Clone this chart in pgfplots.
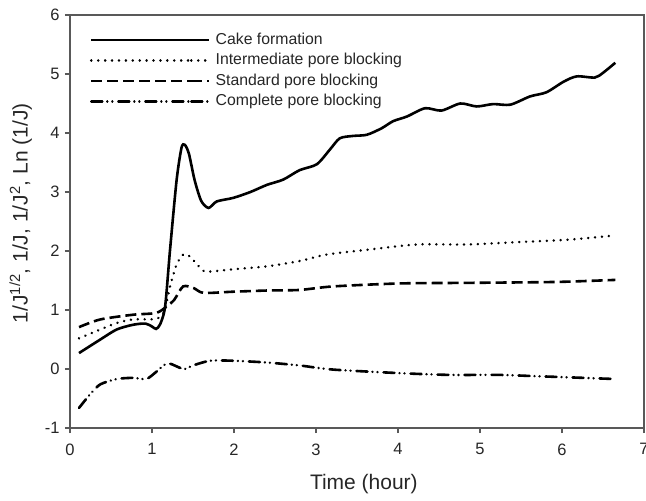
\documentclass[border=0pt]{standalone}
\usepackage{pgfplots}
\pgfplotsset{compat=1.18}
\usepackage{fontspec}
\setmainfont{Liberation Sans}
\newcommand\tl{\fontsize{16.5}{19}\selectfont}
\begin{document}
\begin{tikzpicture}
\begin{axis}[
  scale only axis,
  width=574pt, height=413pt,
  xmin=0, xmax=7, ymin=-1, ymax=6,
  xtick={0,1,...,7}, ytick={-1,0,...,6},
  xticklabels={\tl 0,\tl 1,\tl 2,\tl 3,\tl 4,\tl 5,\tl 6,\tl 7},
  yticklabels={\tl -1,\tl 0,\tl 1,\tl 2,\tl 3,\tl 4,\tl 5,\tl 6},
  xtick pos=left, ytick pos=left,
  tick align=outside,
  major tick length=5pt,
  axis line style={draw=black!65, line width=1.1pt},
  every tick/.style={draw=black!65, line width=1.1pt},
  tick label style={text=black!85},
  xticklabel style={yshift=-7pt},
  yticklabel style={xshift=-2pt},
  xlabel={Time (hour)},
  ylabel={1/J\textsuperscript{1/2}, 1/J, 1/J\textsuperscript{2}, Ln (1/J)},
  label style={font=\fontsize{21}{25}\selectfont, text=black!85},
  xlabel style={at={(axis description cs:0.512,-0.1356)}, anchor=center},
  ylabel style={at={(axis description cs:-0.086,0.52)}, anchor=center},
  legend cell align=left,
  legend image code/.code={\draw[#1] (0pt,0pt) -- (100pt,0pt); \path (100pt,0pt) -- (118pt,0pt);},
  legend style={draw=none, fill=none, inner sep=0pt, outer sep=0pt,
    at={(0.0348,0.964)}, anchor=north west,
    font=\fontsize{15.8}{18}\selectfont, text=black!85,
    nodes={inner ysep=3.25pt, inner xsep=5pt, text height=11pt, text depth=3pt},
    row sep=0pt},
]
\coordinate (bl) at (rel axis cs:0,0);
\addplot[black, line width=2.6pt, smooth, tension=0.45] coordinates {
(0.11,0.27)(0.37,0.50)(0.57,0.67)(0.77,0.75)(0.92,0.77)(1.0,0.72)(1.05,0.68)(1.1,0.76)
(1.16,1.06)(1.22,2.02)(1.30,3.2)(1.36,3.75)(1.40,3.80)(1.45,3.65)(1.52,3.2)(1.60,2.85)
(1.69,2.73)(1.79,2.84)(1.99,2.90)(2.2,3.0)(2.40,3.12)(2.60,3.21)(2.80,3.37)(3.01,3.47)
(3.17,3.72)(3.29,3.91)(3.45,3.95)(3.62,3.97)(3.80,4.08)(3.94,4.20)(4.11,4.28)(4.33,4.42)
(4.53,4.38)(4.76,4.50)(4.96,4.45)(5.16,4.49)(5.37,4.48)(5.61,4.62)(5.81,4.69)(6.02,4.87)
(6.18,4.96)(6.40,4.94)(6.50,5.02)(6.65,5.19)};
\addlegendentry{Cake formation}
\addplot[black, line width=2.7pt, line cap=round, dash pattern=on 0.01pt off 6.9pt, smooth, tension=0.45] coordinates {
(0.11,0.52)(0.37,0.67)(0.57,0.78)(0.77,0.84)(1.05,0.85)(1.15,0.98)(1.22,1.40)(1.30,1.77)
(1.38,1.94)(1.46,1.91)(1.59,1.71)(1.67,1.65)(1.99,1.69)(2.40,1.74)(2.80,1.83)(3.13,1.94)
(3.62,2.02)(4.23,2.11)(4.84,2.11)(5.45,2.15)(6.06,2.19)(6.62,2.26)};
\addlegendentry{Intermediate pore blocking}
\addplot[black, line width=2.6pt, dash pattern=on 11pt off 5pt, smooth, tension=0.45] coordinates {
(0.11,0.71)(0.37,0.84)(0.77,0.92)(1.05,0.95)(1.18,1.06)(1.27,1.17)(1.38,1.40)(1.51,1.37)
(1.63,1.29)(1.99,1.31)(2.40,1.33)(2.80,1.34)(3.21,1.40)(4.02,1.45)(4.84,1.46)(5.65,1.47)
(6.06,1.48)(6.65,1.51)};
\addlegendentry{Standard pore blocking}
\addplot[black, line width=2.6pt, line cap=round, dash pattern=on 11pt off 5pt on 0.01pt off 5pt on 0.01pt off 6pt, smooth, tension=0.45] coordinates {
(0.11,-0.66)(0.25,-0.42)(0.37,-0.26)(0.57,-0.17)(0.77,-0.15)(0.93,-0.17)(1.05,-0.05)
(1.15,0.07)(1.22,0.09)(1.34,0.02)(1.40,0.0)(1.50,0.06)(1.71,0.14)(1.99,0.14)(2.40,0.11)
(2.80,0.06)(3.21,-0.01)(4.02,-0.07)(4.63,-0.10)(5.24,-0.10)(5.65,-0.12)(6.06,-0.14)(6.65,-0.17)};
\addlegendentry{Complete pore blocking}
\end{axis}
\pgfresetboundingbox
\useasboundingbox (bl) ++(-70pt,-73pt) rectangle ++(646pt,501pt);
\end{tikzpicture}
\end{document}
